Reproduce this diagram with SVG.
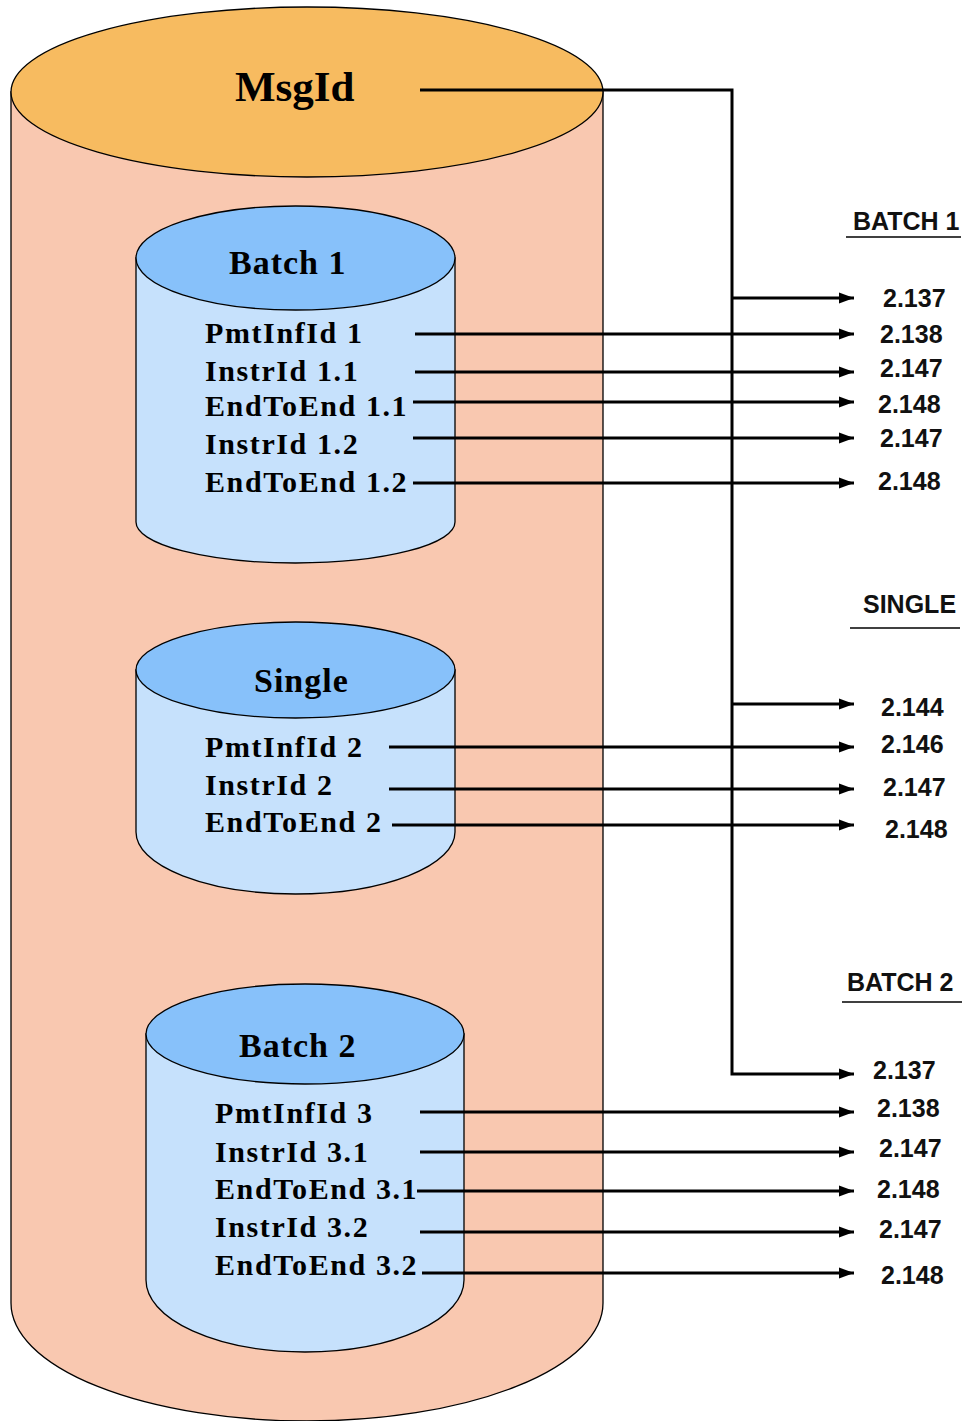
<svg xmlns="http://www.w3.org/2000/svg" width="966" height="1421" viewBox="0 0 966 1421">
<style>
.outerBody{fill:#F9C8B0;stroke:#000;stroke-width:1.3}
.outerTop{fill:#F7BB60;stroke:#000;stroke-width:1.3}
.inBody{fill:#C6E1FC;stroke:#000;stroke-width:1.3}
.inTop{fill:#87C1FA;stroke:#000;stroke-width:1.3}
.msg{font-family:"Liberation Serif",serif;font-weight:bold;font-size:43px;fill:#000}
.title{font-family:"Liberation Serif",serif;font-weight:bold;font-size:34px;letter-spacing:1px;fill:#000}
.item{font-family:"Liberation Serif",serif;font-weight:bold;font-size:30px;letter-spacing:1.6px;fill:#000}
.lbl{font-family:"Liberation Sans",Arial,sans-serif;font-weight:bold;font-size:25px;fill:#111}
.conn{fill:none;stroke:#000;stroke-width:3}
.ul{stroke:#000;stroke-width:1.6}
</style>
<defs>
<marker id="arr" markerUnits="userSpaceOnUse" markerWidth="16" markerHeight="12" refX="15" refY="6" orient="auto">
<path d="M0,0.5 L15,6 L0,11.5 Z" fill="#000"/>
</marker>
</defs>
<rect width="966" height="1421" fill="#fff"/>

<g id="msgid">
<path class="outerBody" d="M11,92 L11,1303 A296,118 0 0 0 603,1303 L603,92 Z"/>
<ellipse class="outerTop" cx="307" cy="92" rx="296" ry="85"/>
<text class="msg" x="235" y="101">MsgId</text>
</g>

<g id="batch1">
<path class="inBody" d="M136,258 L136,522 A159.5,41 0 0 0 455,522 L455,258 Z"/>
<ellipse class="inTop" cx="295.5" cy="258" rx="159.5" ry="52"/>
<text class="title" x="229" y="274">Batch 1</text>
<text class="item" x="205" y="343">PmtInfId 1</text>
<text class="item" x="205" y="381">InstrId 1.1</text>
<text class="item" x="205" y="416">EndToEnd 1.1</text>
<text class="item" x="205" y="454">InstrId 1.2</text>
<text class="item" x="205" y="492">EndToEnd 1.2</text>
</g>

<g id="single">
<path class="inBody" d="M136,670 L136,832 A159.5,62 0 0 0 455,832 L455,670 Z"/>
<ellipse class="inTop" cx="295.5" cy="670" rx="159.5" ry="48"/>
<text class="title" x="254" y="692">Single</text>
<text class="item" x="205" y="757">PmtInfId 2</text>
<text class="item" x="205" y="795">InstrId 2</text>
<text class="item" x="205" y="832">EndToEnd 2</text>
</g>

<g id="batch2">
<path class="inBody" d="M146,1034 L146,1280 A159,72 0 0 0 464,1280 L464,1034 Z"/>
<ellipse class="inTop" cx="305" cy="1034" rx="159" ry="50"/>
<text class="title" x="239" y="1057">Batch 2</text>
<text class="item" x="215" y="1123">PmtInfId 3</text>
<text class="item" x="215" y="1162">InstrId 3.1</text>
<text class="item" x="215" y="1199">EndToEnd 3.1</text>
<text class="item" x="215" y="1237">InstrId 3.2</text>
<text class="item" x="215" y="1275">EndToEnd 3.2</text>
</g>

<g id="connectors">
<polyline class="conn" points="420,90 732,90 732,1074 854,1074" marker-end="url(#arr)"/>
<line class="conn" x1="732" y1="298" x2="854" y2="298" marker-end="url(#arr)"/>
<line class="conn" x1="732" y1="704" x2="854" y2="704" marker-end="url(#arr)"/>
<line class="conn" x1="415" y1="334" x2="854" y2="334" marker-end="url(#arr)"/>
<line class="conn" x1="415" y1="372" x2="854" y2="372" marker-end="url(#arr)"/>
<line class="conn" x1="413" y1="402" x2="854" y2="402" marker-end="url(#arr)"/>
<line class="conn" x1="413" y1="438" x2="854" y2="438" marker-end="url(#arr)"/>
<line class="conn" x1="413" y1="483" x2="854" y2="483" marker-end="url(#arr)"/>
<line class="conn" x1="389" y1="747" x2="854" y2="747" marker-end="url(#arr)"/>
<line class="conn" x1="389" y1="789" x2="854" y2="789" marker-end="url(#arr)"/>
<line class="conn" x1="392" y1="825" x2="854" y2="825" marker-end="url(#arr)"/>
<line class="conn" x1="420" y1="1112" x2="854" y2="1112" marker-end="url(#arr)"/>
<line class="conn" x1="420" y1="1152" x2="854" y2="1152" marker-end="url(#arr)"/>
<line class="conn" x1="417" y1="1191" x2="854" y2="1191" marker-end="url(#arr)"/>
<line class="conn" x1="420" y1="1232" x2="854" y2="1232" marker-end="url(#arr)"/>
<line class="conn" x1="422" y1="1273" x2="854" y2="1273" marker-end="url(#arr)"/>
</g>

<g id="labels-batch1">
<text class="lbl" x="853" y="230">BATCH 1</text>
<line class="ul" x1="846" y1="237" x2="961" y2="237"/>
<text class="lbl" x="883" y="307">2.137</text>
<text class="lbl" x="880" y="343">2.138</text>
<text class="lbl" x="880" y="377">2.147</text>
<text class="lbl" x="878" y="413">2.148</text>
<text class="lbl" x="880" y="447">2.147</text>
<text class="lbl" x="878" y="490">2.148</text>
</g>

<g id="labels-single">
<text class="lbl" x="863" y="613">SINGLE</text>
<line class="ul" x1="850" y1="628" x2="960" y2="628"/>
<text class="lbl" x="881" y="716">2.144</text>
<text class="lbl" x="881" y="753">2.146</text>
<text class="lbl" x="883" y="796">2.147</text>
<text class="lbl" x="885" y="838">2.148</text>
</g>

<g id="labels-batch2">
<text class="lbl" x="847" y="991">BATCH 2</text>
<line class="ul" x1="842" y1="1002" x2="962" y2="1002"/>
<text class="lbl" x="873" y="1079">2.137</text>
<text class="lbl" x="877" y="1117">2.138</text>
<text class="lbl" x="879" y="1157">2.147</text>
<text class="lbl" x="877" y="1198">2.148</text>
<text class="lbl" x="879" y="1238">2.147</text>
<text class="lbl" x="881" y="1284">2.148</text>
</g>
</svg>
